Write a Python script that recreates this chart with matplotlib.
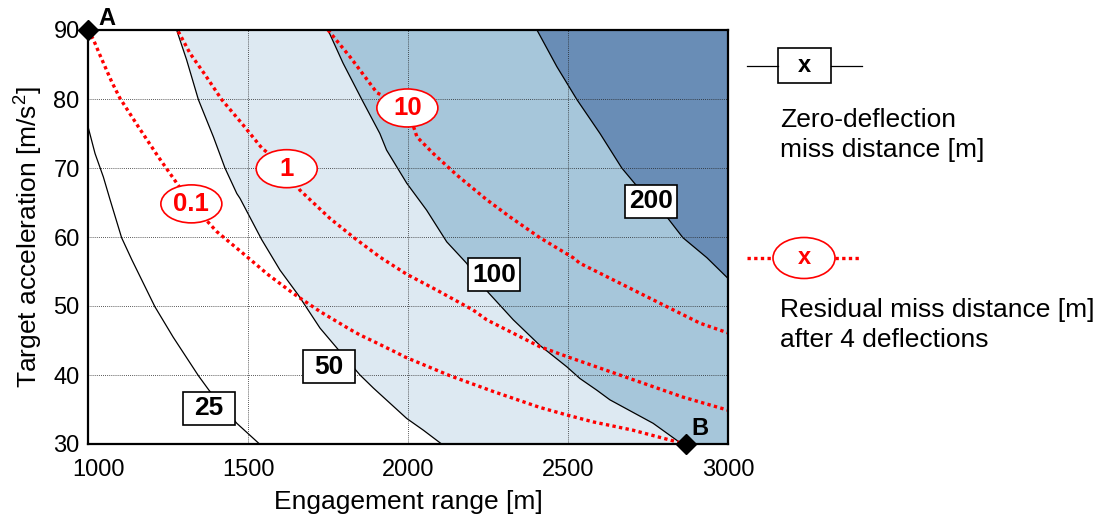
import matplotlib
matplotlib.use("Agg")
import matplotlib.pyplot as plt
import matplotlib.transforms as mtransforms
from matplotlib.patches import Ellipse, Rectangle

plt.rcParams['font.family'] = ['Liberation Sans', 'DejaVu Sans']
plt.rcParams['mathtext.default'] = 'regular'

# zero-deflection miss distance contours (x = range [m], y = accel [m/s2])
c25_x = [1000, 1022, 1048, 1069, 1105, 1137, 1209, 1266, 1345, 1378, 1465, 1536]
c25_y = [76.0, 72.1, 68.7, 65.4, 59.9, 56.7, 49.9, 45.5, 39.9, 37.8, 33.0, 30.0]
c50_x = [1277, 1308, 1345, 1392, 1428, 1465, 1475, 1543, 1600, 1657, 1725, 1778, 1850,
         1892, 1944, 1996, 2048, 2105]
c50_y = [90.0, 85.7, 79.9, 74.5, 70.0, 66.3, 65.6, 59.6, 55.2, 51.6, 46.8, 43.9, 40.0,
         38.1, 35.9, 33.7, 32.0, 30.0]
c100_x = [1750, 1797, 1856, 1912, 1933, 1996, 2058, 2121, 2183, 2250, 2329, 2412, 2496,
          2537, 2590, 2631, 2766, 2856]
c100_y = [90.0, 85.2, 79.9, 75.0, 72.6, 67.8, 63.9, 59.3, 56.2, 52.0, 48.0, 44.3, 41.2,
          39.5, 37.8, 36.4, 33.0, 30.0]
c200_x = [2403, 2465, 2528, 2600, 2668, 2740, 2809, 2859, 2934, 3000]
c200_y = [90.0, 84.7, 79.9, 75.0, 70.0, 66.0, 62.9, 59.9, 57.0, 54.0]

# residual miss distance after 4 deflections
r01_x = [1000, 1017, 1037, 1074, 1100, 1157, 1220, 1282, 1323, 1402, 1485, 1564, 1642,
         1725, 1819, 1850, 1891, 1966, 1991, 2131, 2267, 2412, 2497, 2579, 2703, 2841, 2870]
r01_y = [90.0, 88.6, 86.4, 82.5, 80.1, 76.0, 71.6, 67.5, 64.8, 60.8, 57.6, 54.5, 51.8,
         49.2, 46.6, 45.8, 44.9, 43.2, 42.6, 39.9, 37.6, 35.3, 34.2, 33.2, 32.0, 30.3, 30.0]
r1_x = [1282, 1319, 1366, 1418, 1480, 1543, 1621, 1662, 1756, 1834, 1912, 1996, 2090,
        2204, 2246, 2412, 2501, 2631, 2859, 3000]
r1_y = [89.8, 86.6, 83.5, 79.9, 76.5, 72.9, 69.9, 66.8, 62.7, 59.8, 57.1, 54.6, 52.3,
        49.4, 48.0, 44.1, 42.6, 40.5, 36.8, 34.9]
r10_x = [1750, 1819, 1903, 1998, 2028, 2079, 2152, 2246, 2319, 2412, 2516, 2537, 2684,
         2809, 2913, 3000]
r10_y = [90.0, 86.1, 80.9, 78.7, 74.5, 72.1, 69.0, 65.4, 62.9, 59.9, 57.0, 56.2, 52.8,
         49.9, 47.5, 46.1]

contour_labels = ['25', '50', '100', '200']
contour_label_x = [1378, 1753, 2269, 2759]
contour_label_y = [35.2, 41.2, 54.5, 65.2]

resid_labels = ['0.1', '1', '10']
resid_label_x = [1323, 1621, 1998]
resid_label_y = [64.8, 69.9, 78.7]

points = ['A', 'B']
point_x = [1000, 2870]
point_y = [90, 30]

light = '#dde9f2'
medium = '#a6c6da'
dark = '#698db6'

fig = plt.figure(figsize=(11.03, 5.21), dpi=100)
ax = fig.add_axes([88 / 1103, 77 / 521, 640 / 1103, 414 / 521])
ax.set_xlim(1000, 3000)
ax.set_ylim(30, 90)

# shaded bands, layered light -> dark
ax.fill(c50_x + [3000, 3000], c50_y + [30, 90], color=light, lw=0, zorder=0)
ax.fill(c100_x + [3000, 3000], c100_y + [30, 90], color=medium, lw=0, zorder=0.1)
ax.fill(c200_x + [3000], c200_y + [90], color=dark, lw=0, zorder=0.2)

ax.set_xticks([1000, 1500, 2000, 2500, 3000])
ax.set_yticks([30, 40, 50, 60, 70, 80, 90])
ax.grid(True, color='#222222', linestyle=(0, (1, 1.5)), linewidth=0.6)
for g in ax.get_xgridlines() + ax.get_ygridlines():
    g.set_zorder(0.5)

for cx, cy in [(c25_x, c25_y), (c50_x, c50_y), (c100_x, c100_y), (c200_x, c200_y)]:
    ax.plot(cx, cy, color='black', lw=0.9, zorder=1)

for rx, ry in [(r01_x, r01_y), (r1_x, r1_y), (r10_x, r10_y)]:
    ax.plot(rx, ry, color='red', lw=2.4, linestyle=(0, (1, 1)), zorder=2)

# boxed contour labels (about 52 x 33 px)
bw = 52 / 0.32
bh = 33 / 6.9
for lab, lx, ly in zip(contour_labels, contour_label_x, contour_label_y):
    ax.add_patch(Rectangle((lx - bw / 2, ly - bh / 2), bw, bh, facecolor='white',
                           edgecolor='black', lw=1.2, zorder=3))
    ax.text(lx, ly, lab, ha='center', va='center', fontsize=19, fontweight='bold', zorder=4)

# ellipse labels for residual miss distance
ew = 61 / 0.32
eh = 38 / 6.9
for lab, lx, ly in zip(resid_labels, resid_label_x, resid_label_y):
    ax.add_patch(Ellipse((lx, ly), ew, eh, facecolor='white', edgecolor='red', lw=1.2, zorder=3))
    ax.text(lx, ly, lab, ha='center', va='center', fontsize=18.5, fontweight='bold',
            color='red', zorder=4)

ax.plot(point_x, point_y, 'D', color='black', markersize=10, clip_on=False, zorder=5)
ax.text(1034, 90.7, points[0], fontsize=17, fontweight='bold', ha='left', va='baseline')
ax.text(2887, 31.3, points[1], fontsize=17, fontweight='bold', ha='left', va='baseline')

for s in ax.spines.values():
    s.set_linewidth(1.6)
ax.tick_params(length=0, labelsize=17)
ax.tick_params(axis='x', pad=11)
ax.tick_params(axis='y', pad=6)
# first x label sits a little to the right in the original
first = ax.get_xticklabels()[0]
first.set_transform(first.get_transform() + mtransforms.ScaledTranslation(0.1, 0, fig.dpi_scale_trans))
ax.set_xlabel('Engagement range [m]', fontsize=19, labelpad=6)
ax.set_ylabel('Target acceleration [m/s$^2$]', fontsize=19, labelpad=6)

# legend drawn in figure pixels
leg = fig.add_axes([0, 0, 1, 1])
leg.set_xlim(0, 1103)
leg.set_ylim(521, 0)
leg.axis('off')
leg.patch.set_alpha(0)

leg.plot([747, 778], [66, 66], color='black', lw=0.9)
leg.plot([831, 862], [66, 66], color='black', lw=0.9)
leg.add_patch(Rectangle((778, 48), 53, 35, facecolor='white', edgecolor='black', lw=1.2))
leg.text(804.5, 66, 'x', ha='center', va='center', fontsize=17, fontweight='bold')
leg.text(780, 127, 'Zero-deflection', fontsize=19, ha='left', va='baseline')
leg.text(780, 157, 'miss distance [m]', fontsize=19, ha='left', va='baseline')

leg.plot([747, 773], [258, 258], color='red', lw=2.4, linestyle=(0, (1, 1)))
leg.plot([835, 859], [258, 258], color='red', lw=2.4, linestyle=(0, (1, 1)))
leg.add_patch(Ellipse((804, 258), 62, 41, facecolor='white', edgecolor='red', lw=1.2))
leg.text(804, 258, 'x', ha='center', va='center', fontsize=17, fontweight='bold', color='red')
leg.text(780, 317, 'Residual miss distance [m]', fontsize=19, ha='left', va='baseline')
leg.text(780, 347, 'after 4 deflections', fontsize=19, ha='left', va='baseline')

fig.savefig('out.png', dpi=100)
